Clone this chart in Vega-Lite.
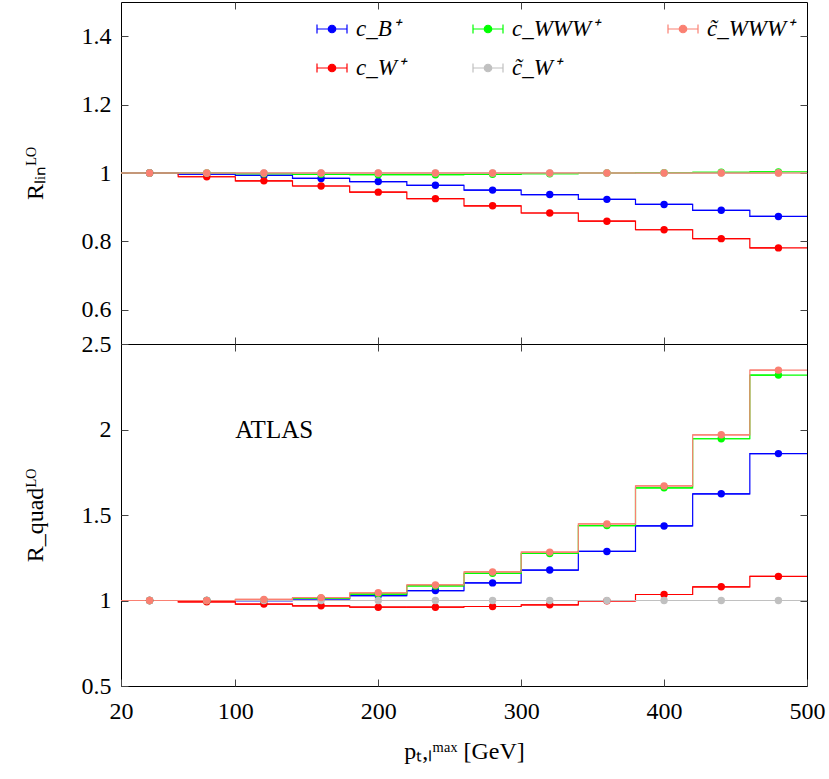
{
  "$schema": "https://vega.github.io/schema/vega-lite/v6.json",
  "description": "LO ratios, linear and quadratic terms, per pT bin",
  "padding": {"left": 22, "top": 1, "right": 20, "bottom": 10},
  "spacing": 0,
  "bounds": "flush",
  "datasets": {
    "lin": [
      {"s": "c_B⁺", "x": 40, "v": 1.0}, {"s": "c_B⁺", "x": 80, "v": 0.997}, {"s": "c_B⁺", "x": 120, "v": 0.993},
      {"s": "c_B⁺", "x": 160, "v": 0.984}, {"s": "c_B⁺", "x": 200, "v": 0.975}, {"s": "c_B⁺", "x": 240, "v": 0.964},
      {"s": "c_B⁺", "x": 280, "v": 0.95}, {"s": "c_B⁺", "x": 320, "v": 0.937}, {"s": "c_B⁺", "x": 360, "v": 0.923},
      {"s": "c_B⁺", "x": 400, "v": 0.908}, {"s": "c_B⁺", "x": 440, "v": 0.891}, {"s": "c_B⁺", "x": 480, "v": 0.873},
      {"s": "c_W⁺", "x": 40, "v": 1.0}, {"s": "c_W⁺", "x": 80, "v": 0.989}, {"s": "c_W⁺", "x": 120, "v": 0.977},
      {"s": "c_W⁺", "x": 160, "v": 0.962}, {"s": "c_W⁺", "x": 200, "v": 0.944}, {"s": "c_W⁺", "x": 240, "v": 0.925},
      {"s": "c_W⁺", "x": 280, "v": 0.904}, {"s": "c_W⁺", "x": 320, "v": 0.883}, {"s": "c_W⁺", "x": 360, "v": 0.859},
      {"s": "c_W⁺", "x": 400, "v": 0.834}, {"s": "c_W⁺", "x": 440, "v": 0.808}, {"s": "c_W⁺", "x": 480, "v": 0.781},
      {"s": "c_WWW⁺", "x": 40, "v": 1.0}, {"s": "c_WWW⁺", "x": 80, "v": 1.0}, {"s": "c_WWW⁺", "x": 120, "v": 0.998},
      {"s": "c_WWW⁺", "x": 160, "v": 0.996}, {"s": "c_WWW⁺", "x": 200, "v": 0.995}, {"s": "c_WWW⁺", "x": 240, "v": 0.995},
      {"s": "c_WWW⁺", "x": 280, "v": 0.996}, {"s": "c_WWW⁺", "x": 320, "v": 0.998}, {"s": "c_WWW⁺", "x": 360, "v": 1.0},
      {"s": "c_WWW⁺", "x": 400, "v": 1.001}, {"s": "c_WWW⁺", "x": 440, "v": 1.002}, {"s": "c_WWW⁺", "x": 480, "v": 1.003},
      {"s": "c̃_W⁺", "x": 40, "v": 1.0}, {"s": "c̃_W⁺", "x": 80, "v": 1.0}, {"s": "c̃_W⁺", "x": 120, "v": 1.0},
      {"s": "c̃_W⁺", "x": 160, "v": 1.0}, {"s": "c̃_W⁺", "x": 200, "v": 1.0}, {"s": "c̃_W⁺", "x": 240, "v": 1.0},
      {"s": "c̃_W⁺", "x": 280, "v": 1.0}, {"s": "c̃_W⁺", "x": 320, "v": 1.0}, {"s": "c̃_W⁺", "x": 360, "v": 1.0},
      {"s": "c̃_W⁺", "x": 400, "v": 1.0}, {"s": "c̃_W⁺", "x": 440, "v": 1.0}, {"s": "c̃_W⁺", "x": 480, "v": 1.0},
      {"s": "c̃_WWW⁺", "x": 40, "v": 1.0}, {"s": "c̃_WWW⁺", "x": 80, "v": 1.0}, {"s": "c̃_WWW⁺", "x": 120, "v": 1.0},
      {"s": "c̃_WWW⁺", "x": 160, "v": 1.0}, {"s": "c̃_WWW⁺", "x": 200, "v": 1.0}, {"s": "c̃_WWW⁺", "x": 240, "v": 1.0},
      {"s": "c̃_WWW⁺", "x": 280, "v": 1.0}, {"s": "c̃_WWW⁺", "x": 320, "v": 1.0}, {"s": "c̃_WWW⁺", "x": 360, "v": 1.0},
      {"s": "c̃_WWW⁺", "x": 400, "v": 1.0}, {"s": "c̃_WWW⁺", "x": 440, "v": 1.0}, {"s": "c̃_WWW⁺", "x": 480, "v": 1.0}
    ],
    "quad": [
      {"s": "c_B⁺", "x": 40, "v": 1.0}, {"s": "c_B⁺", "x": 80, "v": 1.0}, {"s": "c_B⁺", "x": 120, "v": 0.999},
      {"s": "c_B⁺", "x": 160, "v": 1.01}, {"s": "c_B⁺", "x": 200, "v": 1.029}, {"s": "c_B⁺", "x": 240, "v": 1.058},
      {"s": "c_B⁺", "x": 280, "v": 1.103}, {"s": "c_B⁺", "x": 320, "v": 1.178}, {"s": "c_B⁺", "x": 360, "v": 1.287},
      {"s": "c_B⁺", "x": 400, "v": 1.436}, {"s": "c_B⁺", "x": 440, "v": 1.624}, {"s": "c_B⁺", "x": 480, "v": 1.859},
      {"s": "c_W⁺", "x": 40, "v": 1.0}, {"s": "c_W⁺", "x": 80, "v": 0.992}, {"s": "c_W⁺", "x": 120, "v": 0.979},
      {"s": "c_W⁺", "x": 160, "v": 0.969}, {"s": "c_W⁺", "x": 200, "v": 0.961}, {"s": "c_W⁺", "x": 240, "v": 0.961},
      {"s": "c_W⁺", "x": 280, "v": 0.965}, {"s": "c_W⁺", "x": 320, "v": 0.975}, {"s": "c_W⁺", "x": 360, "v": 0.998},
      {"s": "c_W⁺", "x": 400, "v": 1.035}, {"s": "c_W⁺", "x": 440, "v": 1.08}, {"s": "c_W⁺", "x": 480, "v": 1.141},
      {"s": "c_WWW⁺", "x": 40, "v": 1.0}, {"s": "c_WWW⁺", "x": 80, "v": 1.0}, {"s": "c_WWW⁺", "x": 120, "v": 1.002},
      {"s": "c_WWW⁺", "x": 160, "v": 1.013}, {"s": "c_WWW⁺", "x": 200, "v": 1.037}, {"s": "c_WWW⁺", "x": 240, "v": 1.085},
      {"s": "c_WWW⁺", "x": 280, "v": 1.159}, {"s": "c_WWW⁺", "x": 320, "v": 1.275}, {"s": "c_WWW⁺", "x": 360, "v": 1.438},
      {"s": "c_WWW⁺", "x": 400, "v": 1.659}, {"s": "c_WWW⁺", "x": 440, "v": 1.946}, {"s": "c_WWW⁺", "x": 480, "v": 2.318},
      {"s": "c̃_W⁺", "x": 40, "v": 1.0}, {"s": "c̃_W⁺", "x": 80, "v": 1.0}, {"s": "c̃_W⁺", "x": 120, "v": 1.0},
      {"s": "c̃_W⁺", "x": 160, "v": 1.0}, {"s": "c̃_W⁺", "x": 200, "v": 1.0}, {"s": "c̃_W⁺", "x": 240, "v": 1.0},
      {"s": "c̃_W⁺", "x": 280, "v": 1.0}, {"s": "c̃_W⁺", "x": 320, "v": 1.0}, {"s": "c̃_W⁺", "x": 360, "v": 1.0},
      {"s": "c̃_W⁺", "x": 400, "v": 1.0}, {"s": "c̃_W⁺", "x": 440, "v": 1.0}, {"s": "c̃_W⁺", "x": 480, "v": 1.0},
      {"s": "c̃_WWW⁺", "x": 40, "v": 1.0}, {"s": "c̃_WWW⁺", "x": 80, "v": 1.0}, {"s": "c̃_WWW⁺", "x": 120, "v": 1.006},
      {"s": "c̃_WWW⁺", "x": 160, "v": 1.017}, {"s": "c̃_WWW⁺", "x": 200, "v": 1.045}, {"s": "c̃_WWW⁺", "x": 240, "v": 1.091},
      {"s": "c̃_WWW⁺", "x": 280, "v": 1.167}, {"s": "c̃_WWW⁺", "x": 320, "v": 1.283}, {"s": "c̃_WWW⁺", "x": 360, "v": 1.448},
      {"s": "c̃_WWW⁺", "x": 400, "v": 1.67}, {"s": "c̃_WWW⁺", "x": 440, "v": 1.969}, {"s": "c̃_WWW⁺", "x": 480, "v": 2.347}
    ],
    "label": [{"x": 100, "v": 2.0, "text": "ATLAS"}]
  },
  "vconcat": [
    {
      "width": 686,
      "height": 342,
      "data": {"name": "lin"},
      "transform": [
        {"calculate": "datum.x - 20", "as": "lo"},
        {"calculate": "datum.x + 20", "as": "hi"}
      ],
      "layer": [
        {
          "mark": {"type": "rule", "strokeWidth": 1.2},
          "encoding": {
            "x": {"field": "lo", "type": "quantitative", "scale": {"domain": [20, 500], "nice": false, "zero": false},
                  "axis": {"orient": "bottom", "labels": false, "labelPadding": 0, "title": null, "values": [100, 200, 300, 400]}},
            "x2": {"field": "hi"},
            "y": {"field": "v", "type": "quantitative", "scale": {"domain": [0.5, 1.5], "nice": false, "zero": false},
                  "axis": {"orient": "left", "values": [0.6, 0.8, 1, 1.2, 1.4], "format": "~g", "title": "Rₗᵢₙᴸᴼ"}},
            "color": {"field": "s", "type": "nominal", "sort": null,
                      "scale": {"domain": ["c_B⁺", "c_WWW⁺", "c̃_WWW⁺", "c_W⁺", "c̃_W⁺"],
                                "range": ["#0000ff", "#00ff00", "#fa8072", "#ff0000", "#c0c0c0"]},
                      "legend": {
                        "orient": "none", "legendX": 195, "legendY": 11, "columns": 3,
                        "title": null, "direction": "horizontal",
                        "symbolType": "M-1,0H1M-1,-0.3V0.3M1,-0.3V0.3M-0.25,0A0.25,0.25,0,1,1,0.25,0A0.25,0.25,0,1,1,-0.25,0Z",
                        "symbolSize": 900, "symbolStrokeWidth": 1.2, "symbolOpacity": 1,
                        "labelFont": "Liberation Serif", "labelFontStyle": "italic", "labelFontSize": 23,
                        "labelOffset": 8, "columnPadding": 65, "rowPadding": 11,
                        "encode": {"symbols": {"update": {"fill": {"scale": "color", "field": "value"},
                                                          "stroke": {"scale": "color", "field": "value"},
                                                          "opacity": {"value": 1}}}}
                      }}
          }
        },
        {
          "mark": {"type": "line", "interpolate": "step", "strokeWidth": 1.2},
          "encoding": {
            "x": {"field": "x", "type": "quantitative", "axis": null},
            "y": {"field": "v", "type": "quantitative", "axis": null},
            "color": {"field": "s", "type": "nominal", "sort": null}
          }
        },
        {
          "mark": {"type": "point", "filled": true, "size": 55, "opacity": 1},
          "encoding": {
            "x": {"field": "x", "type": "quantitative",
                  "axis": {"orient": "top", "labels": false, "labelPadding": 0, "title": null, "values": [100, 200, 300, 400]}},
            "y": {"field": "v", "type": "quantitative",
                  "axis": {"orient": "right", "labels": false, "labelPadding": 0, "title": null, "values": [0.6, 0.8, 1, 1.2, 1.4]}},
            "color": {"field": "s", "type": "nominal", "sort": null}
          }
        }
      ],
      "resolve": {"axis": {"x": "independent", "y": "independent"}}
    },
    {
      "width": 686,
      "height": 342,
      "layer": [
        {
          "data": {"name": "quad"},
          "transform": [
            {"calculate": "datum.x - 20", "as": "lo"},
            {"calculate": "datum.x + 20", "as": "hi"}
          ],
          "mark": {"type": "rule", "strokeWidth": 1.2},
          "encoding": {
            "x": {"field": "lo", "type": "quantitative", "scale": {"domain": [20, 500], "nice": false, "zero": false},
                  "axis": {"orient": "bottom", "values": [20, 100, 200, 300, 400, 500], "format": "d",
                           "labelPadding": 20, "titlePadding": 16, "title": "pₜ,ₗᵐᵃˣ [GeV]"}},
            "x2": {"field": "hi"},
            "y": {"field": "v", "type": "quantitative", "scale": {"domain": [0.5, 2.5], "nice": false, "zero": false},
                  "axis": {"orient": "left", "values": [0.5, 1, 1.5, 2, 2.5], "format": "~g", "title": "R_quadᴸᴼ"}},
            "color": {"field": "s", "type": "nominal", "sort": null}
          }
        },
        {
          "data": {"name": "quad"},
          "mark": {"type": "line", "interpolate": "step", "strokeWidth": 1.2},
          "encoding": {
            "x": {"field": "x", "type": "quantitative", "axis": null},
            "y": {"field": "v", "type": "quantitative", "axis": null},
            "color": {"field": "s", "type": "nominal", "sort": null}
          }
        },
        {
          "data": {"name": "quad"},
          "mark": {"type": "point", "filled": true, "size": 55, "opacity": 1},
          "encoding": {
            "x": {"field": "x", "type": "quantitative",
                  "axis": {"orient": "top", "labels": false, "labelPadding": 0, "title": null, "values": [100, 200, 300, 400]}},
            "y": {"field": "v", "type": "quantitative",
                  "axis": {"orient": "right", "labels": false, "labelPadding": 0, "title": null, "values": [1, 1.5, 2]}},
            "color": {"field": "s", "type": "nominal", "sort": null}
          }
        },
        {
          "data": {"name": "label"},
          "mark": {"type": "text", "align": "left", "baseline": "middle", "font": "Liberation Serif", "fontSize": 25},
          "encoding": {
            "x": {"field": "x", "type": "quantitative", "axis": null},
            "y": {"field": "v", "type": "quantitative", "axis": null},
            "text": {"field": "text"}
          }
        }
      ],
      "resolve": {"axis": {"x": "independent", "y": "independent"}}
    }
  ],
  "config": {
    "view": {"stroke": "#000000", "strokeWidth": 1},
    "legend": {"labelFont": "Liberation Serif", "labelFontStyle": "italic", "labelFontSize": 23},
    "axis": {
      "domain": false,
      "grid": false,
      "tickSize": -7,
      "tickColor": "#444444",
      "labelPadding": 17,
      "labelFont": "Liberation Serif",
      "labelFontSize": 24,
      "labelColor": "#000000",
      "labelFlush": false,
      "labelOverlap": false,
      "titleFont": "Liberation Serif",
      "titleFontSize": 24,
      "titleFontWeight": "normal",
      "titleColor": "#000000"
    },
    "axisY": {"titlePadding": 34}
  }
}
